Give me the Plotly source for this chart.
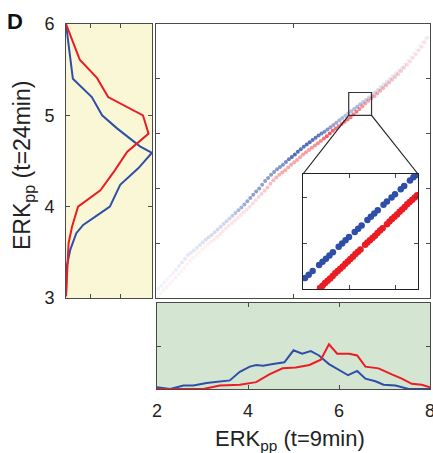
import numpy as np
import plotly.graph_objects as go

W, H = 433, 453
BLUE = "#2f4ea8"
RED = "#ec1c24"
FONT = "Liberation Sans, Arial, sans-serif"

# ---------------- data ----------------
# left marginal: distribution of ERKpp at t=24min (density, value)
left_val_blue = [6.0, 5.4, 5.2, 5.0, 4.86, 4.66, 4.59, 4.42, 4.24, 4.0, 3.93, 3.8, 3.71, 3.53, 3.35, 3.02]
left_den_blue = [0.0, 0.08, 0.30, 0.42, 0.59, 0.86, 1.0, 0.84, 0.63, 0.51, 0.40, 0.20, 0.12, 0.05, 0.01, 0.0]
left_val_red = [6.0, 5.61, 5.41, 5.2, 5.0, 4.8, 4.6, 4.4, 4.18, 4.0, 3.78, 3.6, 3.02]
left_den_red = [0.0, 0.16, 0.36, 0.49, 0.895, 0.96, 0.71, 0.57, 0.40, 0.14, 0.07, 0.03, 0.0]

# bottom marginal: distribution of ERKpp at t=9min
bot_val_blue = [2.0, 2.29, 2.58, 2.8, 3.09, 3.38, 3.6, 3.82, 4.04, 4.18, 4.33, 4.55, 4.8, 5.0, 5.19,
                5.38, 5.56, 5.78, 6.0, 6.2, 6.4, 6.58, 6.8, 6.98, 7.24, 7.53, 8.0]
bot_den_blue = [0.02, 0.0, 0.04, 0.04, 0.07, 0.09, 0.10, 0.20, 0.26, 0.28, 0.27, 0.29, 0.31, 0.45, 0.41,
                0.44, 0.39, 0.29, 0.22, 0.16, 0.21, 0.12, 0.09, 0.05, 0.04, 0.0, 0.0]
bot_val_red = [2.0, 3.02, 3.38, 3.82, 4.18, 4.47, 4.76, 5.05, 5.35, 5.6, 5.78, 5.96, 6.22, 6.4, 6.58,
               6.87, 7.16, 7.38, 7.6, 7.82, 8.0]
bot_den_red = [0.0, 0.0, 0.04, 0.05, 0.08, 0.17, 0.24, 0.25, 0.28, 0.34, 0.52, 0.41, 0.41, 0.39, 0.26,
               0.24, 0.17, 0.12, 0.06, 0.05, 0.02]

# main scatter: ERKpp(t=9) vs ERKpp(t=24)
sc_x_blue = [2.05, 2.115, 2.18, 2.245, 2.31, 2.375, 2.44, 2.505, 2.57, 2.635, 2.70, 2.765, 2.83, 2.895,
             2.96, 3.025, 3.09, 3.155, 3.22, 3.285, 3.35, 3.415, 3.48, 3.545, 3.61, 3.675, 3.74, 3.805,
             3.87, 3.935, 4.00, 4.065, 4.13, 4.195, 4.26, 4.325, 4.39, 4.455, 4.52, 4.585, 4.65, 4.715,
             4.78, 4.845, 4.91, 4.975, 5.04, 5.105, 5.17, 5.235, 5.30, 5.365, 5.43, 5.495, 5.56, 5.625,
             5.69, 5.755, 5.82, 5.885, 5.95, 6.015, 6.08, 6.145, 6.21, 6.275, 6.34, 6.405, 6.47, 6.535,
             6.60, 6.665, 6.73, 6.795, 6.86, 6.925, 6.99, 7.055, 7.12, 7.185, 7.25, 7.315, 7.38, 7.445,
             7.51, 7.575, 7.64, 7.705, 7.77, 7.835, 7.90]
sc_y_blue = [3.10, 3.135, 3.17, 3.205, 3.24, 3.275, 3.31, 3.35, 3.39, 3.43, 3.47, 3.495, 3.52, 3.55,
             3.58, 3.61, 3.64, 3.665, 3.69, 3.72, 3.75, 3.78, 3.81, 3.84, 3.87, 3.90, 3.93, 3.96,
             3.99, 4.025, 4.06, 4.095, 4.13, 4.165, 4.20, 4.24, 4.28, 4.315, 4.35, 4.38, 4.41, 4.435,
             4.46, 4.49, 4.52, 4.545, 4.57, 4.60, 4.63, 4.655, 4.68, 4.705, 4.73, 4.755, 4.78, 4.80,
             4.82, 4.845, 4.87, 4.895, 4.92, 4.945, 4.97, 4.995, 5.02, 5.045, 5.07, 5.095, 5.12, 5.145,
             5.17, 5.195, 5.22, 5.25, 5.28, 5.31, 5.34, 5.37, 5.40, 5.43, 5.46, 5.49, 5.52, 5.56,
             5.60, 5.64, 5.68, 5.72, 5.76, 5.80, 5.84]
sc_x_red = [2.10, 2.165, 2.23, 2.295, 2.36, 2.425, 2.49, 2.555, 2.62, 2.685, 2.75, 2.815, 2.88, 2.945,
            3.01, 3.075, 3.14, 3.205, 3.27, 3.335, 3.40, 3.465, 3.53, 3.595, 3.66, 3.725, 3.79, 3.855,
            3.92, 3.985, 4.05, 4.115, 4.18, 4.245, 4.31, 4.375, 4.44, 4.505, 4.57, 4.635, 4.70, 4.765,
            4.83, 4.895, 4.96, 5.025, 5.09, 5.155, 5.22, 5.285, 5.35, 5.415, 5.48, 5.545, 5.61, 5.675,
            5.74, 5.805, 5.87, 5.935, 6.00, 6.065, 6.13, 6.195, 6.26, 6.325, 6.39, 6.455, 6.52, 6.585,
            6.65, 6.715, 6.78, 6.845, 6.91, 6.975, 7.04, 7.105, 7.17, 7.235, 7.30, 7.365, 7.43, 7.495,
            7.56, 7.625, 7.69, 7.755, 7.82, 7.885, 7.95]
sc_y_red = [3.05, 3.085, 3.12, 3.155, 3.19, 3.225, 3.26, 3.295, 3.33, 3.37, 3.41, 3.44, 3.47, 3.50,
            3.53, 3.56, 3.59, 3.615, 3.64, 3.67, 3.70, 3.73, 3.76, 3.79, 3.82, 3.85, 3.88, 3.91,
            3.94, 3.97, 4.00, 4.035, 4.07, 4.105, 4.14, 4.175, 4.21, 4.25, 4.29, 4.32, 4.35, 4.375,
            4.40, 4.43, 4.46, 4.485, 4.51, 4.54, 4.57, 4.595, 4.62, 4.645, 4.67, 4.695, 4.72, 4.745,
            4.77, 4.80, 4.83, 4.855, 4.88, 4.905, 4.93, 4.955, 4.98, 5.01, 5.04, 5.07, 5.10, 5.13,
            5.16, 5.185, 5.21, 5.24, 5.27, 5.30, 5.33, 5.36, 5.39, 5.42, 5.45, 5.485, 5.52, 5.555,
            5.59, 5.63, 5.67, 5.71, 5.75, 5.80, 5.85]

# inset (zoomed region)
zoom_x = [6.22, 6.72]
zoom_y = [5.0, 5.25]
in_x_blue = [6.229, 6.245, 6.262, 6.29, 6.305, 6.32, 6.335, 6.35, 6.375, 6.39, 6.405, 6.42, 6.445, 6.46,
             6.475, 6.50, 6.515, 6.53, 6.545, 6.57, 6.585, 6.605, 6.62, 6.645, 6.66, 6.685, 6.70, 6.711]
in_y_blue = [5.024, 5.031, 5.039, 5.052, 5.059, 5.066, 5.073, 5.080, 5.092, 5.099, 5.106, 5.113, 5.124, 5.131,
             5.138, 5.150, 5.157, 5.164, 5.171, 5.183, 5.190, 5.199, 5.206, 5.217, 5.224, 5.236, 5.243, 5.248]
in_x_red = [6.294, 6.305, 6.316, 6.327, 6.338, 6.349, 6.36, 6.371, 6.382, 6.393, 6.404, 6.415, 6.426, 6.437,
            6.448, 6.459, 6.47, 6.49, 6.50, 6.511, 6.522, 6.533, 6.544, 6.555, 6.566, 6.585, 6.596, 6.607,
            6.618, 6.629, 6.64, 6.651, 6.662, 6.673, 6.684, 6.695, 6.706, 6.716]
in_y_red = [5.002, 5.007, 5.013, 5.018, 5.023, 5.028, 5.034, 5.039, 5.044, 5.049, 5.055, 5.060, 5.065, 5.070,
            5.076, 5.081, 5.086, 5.096, 5.101, 5.106, 5.111, 5.116, 5.122, 5.127, 5.132, 5.141, 5.147, 5.152,
            5.157, 5.162, 5.168, 5.173, 5.178, 5.184, 5.189, 5.194, 5.199, 5.204]

tick_labels_y = ["3", "4", "5", "6"]
tick_labels_x = ["2", "4", "6", "8"]

# ---------------- layout helpers ----------------
def px_x(p):
    return p / W

def px_y(p):
    return 1 - p / H

dom_left_x = [px_x(66), px_x(152)]
dom_main_x = [px_x(156), px_x(430)]
dom_bot_x = [px_x(157), px_x(430)]
dom_top_y = [px_y(298), px_y(24)]
dom_bot_y = [px_y(389), px_y(303)]
dom_in_x = [px_x(303), px_x(418)]
dom_in_y = [px_y(289), px_y(174)]

fig = go.Figure()

# left marginal
fig.add_trace(go.Scatter(x=left_den_blue, y=left_val_blue, mode="lines", line=dict(color=BLUE, width=2),
                         xaxis="x", yaxis="y", showlegend=False))
fig.add_trace(go.Scatter(x=left_den_red, y=left_val_red, mode="lines", line=dict(color=RED, width=2),
                         xaxis="x", yaxis="y", showlegend=False))

# main scatter (opacity follows local density)
op_b = 0.05 + 0.8 * np.interp(sc_x_blue, bot_val_blue, bot_den_blue) / max(bot_den_blue)
op_r = 0.05 + 0.7 * np.interp(sc_x_red, bot_val_red, bot_den_red) / max(bot_den_red)
fig.add_trace(go.Scatter(x=sc_x_red, y=sc_y_red, mode="markers",
                         marker=dict(color=RED, size=4, opacity=op_r, line=dict(width=0)),
                         xaxis="x2", yaxis="y2", showlegend=False))
fig.add_trace(go.Scatter(x=sc_x_blue, y=sc_y_blue, mode="markers",
                         marker=dict(color=BLUE, size=4, opacity=op_b, line=dict(width=0)),
                         xaxis="x2", yaxis="y2", showlegend=False))

# bottom marginal
fig.add_trace(go.Scatter(x=bot_val_blue, y=bot_den_blue, mode="lines", line=dict(color=BLUE, width=2),
                         xaxis="x3", yaxis="y3", showlegend=False))
fig.add_trace(go.Scatter(x=bot_val_red, y=bot_den_red, mode="lines", line=dict(color=RED, width=2),
                         xaxis="x3", yaxis="y3", showlegend=False))

# inset
fig.add_trace(go.Scatter(x=in_x_blue, y=in_y_blue, mode="markers",
                         marker=dict(color=BLUE, size=6.5, line=dict(width=0)),
                         xaxis="x4", yaxis="y4", showlegend=False))
fig.add_trace(go.Scatter(x=in_x_red, y=in_y_red, mode="markers",
                         marker=dict(color=RED, size=6.5, line=dict(width=0)),
                         xaxis="x4", yaxis="y4", showlegend=False))

AX = dict(showline=True, linecolor="#4a4a4a", linewidth=1, mirror="ticks", ticks="inside",
          ticklen=4, tickcolor="#4a4a4a", showgrid=False, zeroline=False, fixedrange=True,
          automargin=False, ticklabeloverflow="allow")
TF = dict(family=FONT, size=18, color="#222")

fig.update_layout(
    template="none",
    width=W, height=H, margin=dict(l=0, r=0, t=0, b=0, pad=0), autosize=False,
    paper_bgcolor="white", plot_bgcolor="white",
    xaxis=dict(AX, domain=dom_left_x, range=[0, 1], tickvals=[0.28, 0.63], showticklabels=False, anchor="y"),
    yaxis=dict(AX, domain=dom_top_y, range=[3, 6], tickvals=[3, 4, 5, 6], ticktext=tick_labels_y,
               tickfont=TF, ticklabelstandoff=7, anchor="x"),
    xaxis2=dict(AX, domain=dom_main_x, range=[2, 8], tickvals=[5], showticklabels=False, anchor="y2"),
    yaxis2=dict(AX, domain=dom_top_y, range=[3, 6], tickvals=[3.6, 4.2, 4.8, 5.4], showticklabels=False,
                anchor="x2"),
    xaxis3=dict(AX, domain=dom_bot_x, range=[2, 8], tickvals=[2, 4, 6, 8], ticktext=tick_labels_x,
                tickfont=TF, ticklabelstandoff=5, anchor="y3"),
    yaxis3=dict(AX, domain=dom_bot_y, range=[0, 1], tickvals=[0.5], showticklabels=False, anchor="x3"),
    xaxis4=dict(AX, domain=dom_in_x, range=zoom_x, tickvals=[6.42, 6.62], showticklabels=False,
                linecolor="#222", linewidth=1.3, anchor="y4"),
    yaxis4=dict(AX, domain=dom_in_y, range=zoom_y, tickvals=[5.1, 5.2], showticklabels=False,
                linecolor="#222", linewidth=1.3, anchor="x4"),
)

shapes = [
    dict(type="rect", xref="x domain", yref="y domain", x0=0, x1=1, y0=0, y1=1,
         fillcolor="#f9f7d5", line=dict(width=0), layer="below"),
    dict(type="rect", xref="x3 domain", yref="y3 domain", x0=0, x1=1, y0=0, y1=1,
         fillcolor="#d4e6d2", line=dict(width=0), layer="below"),
    dict(type="rect", xref="x2", yref="y2", x0=zoom_x[0], x1=zoom_x[1], y0=zoom_y[0], y1=zoom_y[1],
         line=dict(color="#333", width=1.2), layer="above"),
]

# connector lines from zoom box to inset (in paper coords)
def main_to_paper(xv, yv):
    px = dom_main_x[0] + (xv - 2) / 6 * (dom_main_x[1] - dom_main_x[0])
    py = dom_top_y[0] + (yv - 3) / 3 * (dom_top_y[1] - dom_top_y[0])
    return px, py

bl = main_to_paper(zoom_x[0], zoom_y[0])
br = main_to_paper(zoom_x[1], zoom_y[0])
shapes.append(dict(type="line", xref="paper", yref="paper", x0=bl[0], y0=bl[1], x1=dom_in_x[0], y1=dom_in_y[1],
                   line=dict(color="#222", width=1.2), layer="above"))
shapes.append(dict(type="line", xref="paper", yref="paper", x0=br[0], y0=br[1], x1=dom_in_x[1], y1=dom_in_y[1],
                   line=dict(color="#222", width=1.2), layer="above"))
fig.update_layout(shapes=shapes)

fig.update_layout(annotations=[
    dict(text="<b>D</b>", x=px_x(15), y=px_y(21), xref="paper", yref="paper", showarrow=False,
         font=dict(family=FONT, size=22, color="#111"), xanchor="center", yanchor="middle"),
    dict(text="ERK<sub>pp</sub> (t=24min)", x=px_x(23), y=px_y(166), xref="paper", yref="paper",
         showarrow=False, textangle=-90, font=dict(family=FONT, size=23, color="#222"),
         xanchor="center", yanchor="middle"),
    dict(text="ERK<sub>pp</sub> (t=9min)", x=px_x(290), y=px_y(440), xref="paper", yref="paper",
         showarrow=False, font=dict(family=FONT, size=22, color="#222"),
         xanchor="center", yanchor="middle"),
])

fig.write_html("out.html")
